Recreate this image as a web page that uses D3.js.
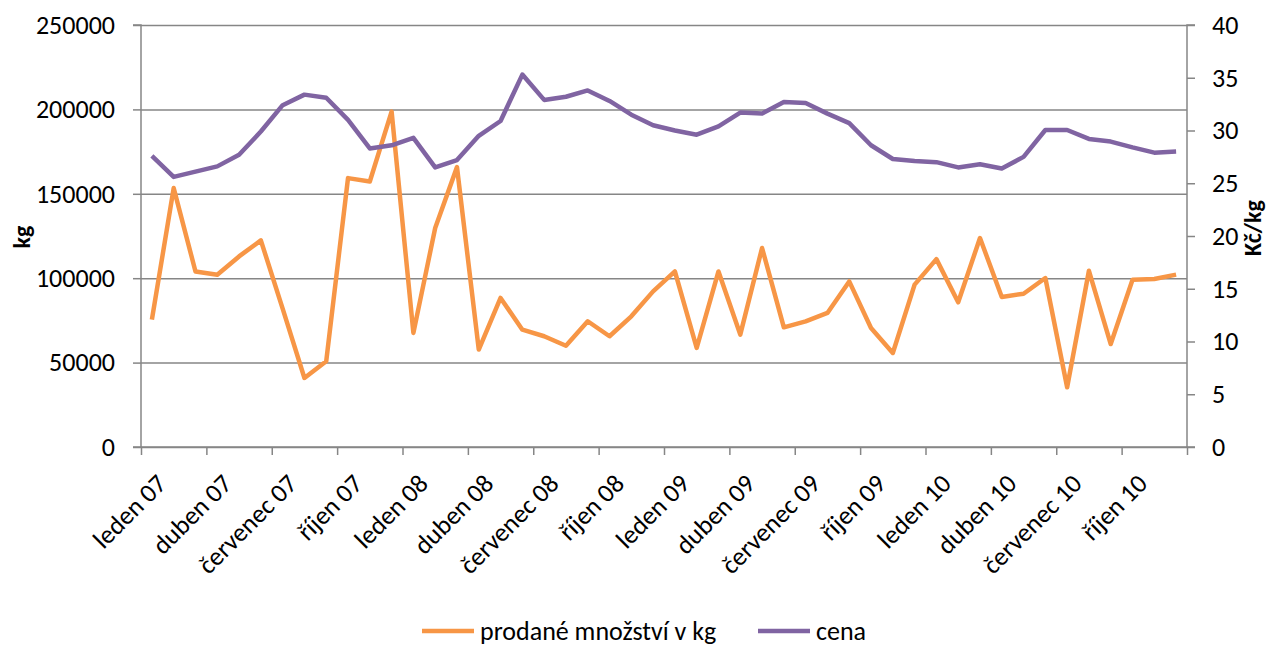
<!DOCTYPE html>
<html>
<head>
<meta charset="utf-8">
<script src="https://cdn.jsdelivr.net/npm/d3@7"></script>
<style>
  body { margin: 0; background: #fff; }
  svg text { font-family: Carlito, Lato, "Open Sans", sans-serif; fill: #000; }
  .axis path, .axis line { stroke: #868686; }
</style>
</head>
<body>
<svg id="chart"></svg>
<script>
////Data
const months = ["leden", "únor", "březen", "duben", "květen", "červen",
  "červenec", "srpen", "září", "říjen", "listopad", "prosinec"];
const years = ["07", "08", "09", "10"];
const categories = years.flatMap(y => months.map(m => m + " " + y));

const quantity = [
  75400, 153400, 104000, 102000, 112900, 122400, 82000, 40900, 50800, 159300, 157300, 198700,
  67600, 129700, 165800, 57700, 88300, 69500, 65600, 60000, 74500, 65600, 77400, 92200,
  104000, 58700, 104000, 66600, 117900, 70900, 74400, 79400, 98100, 70500, 55700, 96200,
  111300, 85700, 123800, 88900, 90800, 100100, 35400, 104400, 61000, 99100, 99500, 102100
];
const price = [
  27.6, 25.6, 26.1, 26.6, 27.7, 29.9, 32.4, 33.4, 33.1, 31.0, 28.3, 28.6,
  29.3, 26.5, 27.2, 29.5, 30.9, 35.3, 32.9, 33.2, 33.8, 32.8, 31.5, 30.5,
  30.0, 29.6, 30.4, 31.7, 31.6, 32.7, 32.6, 31.6, 30.7, 28.6, 27.3, 27.1,
  27.0, 26.5, 26.8, 26.4, 27.5, 30.05, 30.05, 29.2, 28.95, 28.4, 27.9, 28.0
];
const leftTicks = [0, 50000, 100000, 150000, 200000, 250000];
const rightTicks = [0, 5, 10, 15, 20, 25, 30, 35, 40];
const seriesNames = ["prodané množství v kg", "cena"];

////Layout
const width = 1279;
const height = 646;
const plotLeft = 141, plotRight = 1187, plotTop = 25, plotBottom = 447;
const fontSize = 26;
const orange = "#F79646";
const purple = "#8064A2";

const svg = d3.select("#chart").attr("width", width).attr("height", height);

const x = d3.scaleBand().domain(categories).range([plotLeft, plotRight]).padding(0);
const xEdge = d3.scaleLinear().domain([0, categories.length]).range([plotLeft, plotRight]);
const yLeft = d3.scaleLinear().domain([0, 250000]).range([plotBottom, plotTop]);
const yRight = d3.scaleLinear().domain([0, 40]).range([plotBottom, plotTop]);

// gridlines
svg.append("g")
  .attr("class", "axis grid")
  .attr("transform", `translate(${plotLeft},0)`)
  .call(d3.axisLeft(yLeft).tickValues(leftTicks).tickSize(-(plotRight - plotLeft)).tickFormat(""))
  .call(g => g.select(".domain").remove())
  .selectAll("line").attr("stroke-width", 1.5);

// left axis
svg.append("g")
  .attr("class", "axis")
  .attr("transform", `translate(${plotLeft},0)`)
  .call(d3.axisLeft(yLeft).tickValues(leftTicks).tickSize(8).tickPadding(18).tickFormat(d3.format("d")))
  .call(g => g.select(".domain").attr("d", `M-8,${plotTop}H0V${plotBottom}H-8`).attr("stroke-width", 1.5))
  .call(g => g.selectAll("line").attr("stroke-width", 1.5))
  .selectAll("text").attr("font-size", fontSize);

// right axis
svg.append("g")
  .attr("class", "axis")
  .attr("transform", `translate(${plotRight},0)`)
  .call(d3.axisRight(yRight).tickValues(rightTicks).tickSize(8).tickPadding(17))
  .call(g => g.select(".domain").attr("d", `M8,${plotTop}H0V${plotBottom}H8`).attr("stroke-width", 1.5))
  .call(g => g.selectAll("line").attr("stroke-width", 1.5))
  .selectAll("text").attr("font-size", fontSize);

// x axis tick marks on category edges
svg.append("g")
  .attr("class", "axis")
  .attr("transform", `translate(0,${plotBottom})`)
  .call(d3.axisBottom(xEdge).tickValues(d3.range(0, categories.length + 1, 3)).tickSize(8).tickFormat(""))
  .call(g => g.select(".domain").attr("d", `M${plotLeft},0H${plotRight}`).attr("stroke-width", 1.5))
  .selectAll("line").attr("stroke-width", 1.5);

// x axis labels at category centers
svg.append("g")
  .attr("transform", `translate(0,${plotBottom})`)
  .call(d3.axisBottom(x).tickValues(categories.filter((d, i) => i % 3 === 0)).tickSize(0).tickPadding(0))
  .call(g => g.select(".domain").remove())
  .selectAll("text")
  .attr("font-size", fontSize)
  .attr("text-anchor", "end")
  .attr("dy", "0.72em")
  .attr("transform", "translate(3,25) rotate(-45)");

// axis titles
svg.append("text")
  .attr("transform", "translate(30,237) rotate(-90)")
  .attr("text-anchor", "middle")
  .attr("font-size", 24).attr("font-weight", "bold")
  .text("kg");
svg.append("text")
  .attr("transform", "translate(1261,228) rotate(-90)")
  .attr("text-anchor", "middle")
  .attr("font-size", 24).attr("font-weight", "bold")
  .text("Kč/kg");

// lines
const cx = (d, i) => x(categories[i]) + x.bandwidth() / 2;
svg.append("path")
  .datum(quantity)
  .attr("fill", "none").attr("stroke", orange).attr("stroke-width", 4.5)
  .attr("stroke-linejoin", "round")
  .attr("d", d3.line().x(cx).y(d => yLeft(d)));
svg.append("path")
  .datum(price)
  .attr("fill", "none").attr("stroke", purple).attr("stroke-width", 4.5)
  .attr("stroke-linejoin", "round")
  .attr("d", d3.line().x(cx).y(d => yRight(d)));

// legend
const legend = svg.append("g").attr("transform", "translate(0,631)");
const legendItems = [
  { name: seriesNames[0], color: orange, x: 422 },
  { name: seriesNames[1], color: purple, x: 758 }
];
legendItems.forEach(it => {
  legend.append("line").attr("x1", it.x).attr("x2", it.x + 52).attr("y1", 0).attr("y2", 0)
    .attr("stroke", it.color).attr("stroke-width", 4.5);
  legend.append("text").attr("x", it.x + 58).attr("y", 0).attr("dy", "0.33em")
    .attr("font-size", fontSize).text(it.name);
});
</script>
</body>
</html>
